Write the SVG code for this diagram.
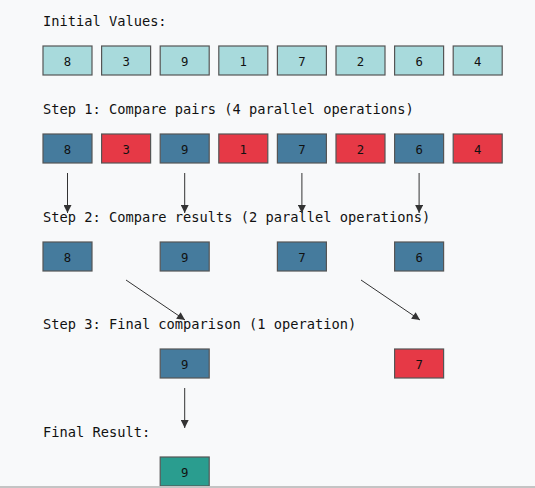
<svg xmlns="http://www.w3.org/2000/svg" width="535" height="488" viewBox="0 0 535 488">
<defs>
<marker id="ah" viewBox="0 0 10 10" refX="10" refY="5" markerWidth="9" markerHeight="8" markerUnits="userSpaceOnUse" orient="auto">
<path d="M0,0 L10,5 L0,10 Z" fill="#333"/>
</marker>
<style>
.lbl{font-family:"DejaVu Sans Mono",monospace;font-size:13.7px;fill:#111}
.num{font-family:"DejaVu Sans Mono",monospace;font-size:12.3px;fill:#111;text-anchor:middle}
.box{stroke:#555;stroke-width:1.2}
.init{fill:#a8dadc}
.win{fill:#457b9d}
.lose{fill:#e63946}
.fin{fill:#2a9d8f}
.conn line{stroke:#333;stroke-width:1;marker-end:url(#ah)}
</style>
</defs>
<rect width="535" height="488" fill="#f8f9fa"/>
<text class="lbl" x="43" y="26">Initial Values:</text>
<text class="lbl" x="43" y="114">Step 1: Compare pairs (4 parallel operations)</text>
<text class="lbl" x="43" y="222">Step 2: Compare results (2 parallel operations)</text>
<text class="lbl" x="43" y="329">Step 3: Final comparison (1 operation)</text>
<text class="lbl" x="43" y="437">Final Result:</text>

<g id="init-row">
<g id="i0"><rect class="box init" x="43" y="46" width="49" height="29"/><text class="num" x="67.5" y="66">8</text></g>
<g id="i1"><rect class="box init" x="101.6" y="46" width="49" height="29"/><text class="num" x="126.1" y="66">3</text></g>
<g id="i2"><rect class="box init" x="160.2" y="46" width="49" height="29"/><text class="num" x="184.7" y="66">9</text></g>
<g id="i3"><rect class="box init" x="218.8" y="46" width="49" height="29"/><text class="num" x="243.3" y="66">1</text></g>
<g id="i4"><rect class="box init" x="277.4" y="46" width="49" height="29"/><text class="num" x="301.9" y="66">7</text></g>
<g id="i5"><rect class="box init" x="336" y="46" width="49" height="29"/><text class="num" x="360.5" y="66">2</text></g>
<g id="i6"><rect class="box init" x="394.6" y="46" width="49" height="29"/><text class="num" x="419.1" y="66">6</text></g>
<g id="i7"><rect class="box init" x="453.2" y="46" width="49" height="29"/><text class="num" x="477.7" y="66">4</text></g>
</g>

<g id="step1-row">
<g id="s1-0"><rect class="box win" x="43" y="134" width="49" height="29"/><text class="num" x="67.5" y="154">8</text></g>
<g id="s1-1"><rect class="box lose" x="101.6" y="134" width="49" height="29"/><text class="num" x="126.1" y="154">3</text></g>
<g id="s1-2"><rect class="box win" x="160.2" y="134" width="49" height="29"/><text class="num" x="184.7" y="154">9</text></g>
<g id="s1-3"><rect class="box lose" x="218.8" y="134" width="49" height="29"/><text class="num" x="243.3" y="154">1</text></g>
<g id="s1-4"><rect class="box win" x="277.4" y="134" width="49" height="29"/><text class="num" x="301.9" y="154">7</text></g>
<g id="s1-5"><rect class="box lose" x="336" y="134" width="49" height="29"/><text class="num" x="360.5" y="154">2</text></g>
<g id="s1-6"><rect class="box win" x="394.6" y="134" width="49" height="29"/><text class="num" x="419.1" y="154">6</text></g>
<g id="s1-7"><rect class="box lose" x="453.2" y="134" width="49" height="29"/><text class="num" x="477.7" y="154">4</text></g>
</g>

<g id="step2-row">
<g id="s2-0"><rect class="box win" x="43" y="242" width="49" height="29"/><text class="num" x="67.5" y="262">8</text></g>
<g id="s2-1"><rect class="box win" x="160.2" y="242" width="49" height="29"/><text class="num" x="184.7" y="262">9</text></g>
<g id="s2-2"><rect class="box win" x="277.4" y="242" width="49" height="29"/><text class="num" x="301.9" y="262">7</text></g>
<g id="s2-3"><rect class="box win" x="394.6" y="242" width="49" height="29"/><text class="num" x="419.1" y="262">6</text></g>
</g>

<g id="step3-row">
<g id="s3-0"><rect class="box win" x="160.2" y="349" width="49" height="29"/><text class="num" x="184.7" y="369">9</text></g>
<g id="s3-1"><rect class="box lose" x="394.6" y="349" width="49" height="29"/><text class="num" x="419.1" y="369">7</text></g>
</g>

<g id="final">
<rect class="box fin" x="160.2" y="457" width="49" height="29"/><text class="num" x="184.7" y="477">9</text>
</g>

<g class="conn" id="connectors">
<line x1="67.5" y1="173" x2="67.5" y2="213"/>
<line x1="184.7" y1="173" x2="184.7" y2="213"/>
<line x1="301.9" y1="173" x2="301.9" y2="213"/>
<line x1="419.1" y1="173" x2="419.1" y2="213"/>
<line x1="126" y1="280" x2="185" y2="320"/>
<line x1="361" y1="280" x2="420" y2="320"/>
<line x1="184.7" y1="388" x2="184.7" y2="428"/>
</g>
<rect x="0" y="486" width="535" height="2" fill="#c4c4c4"/>
</svg>
